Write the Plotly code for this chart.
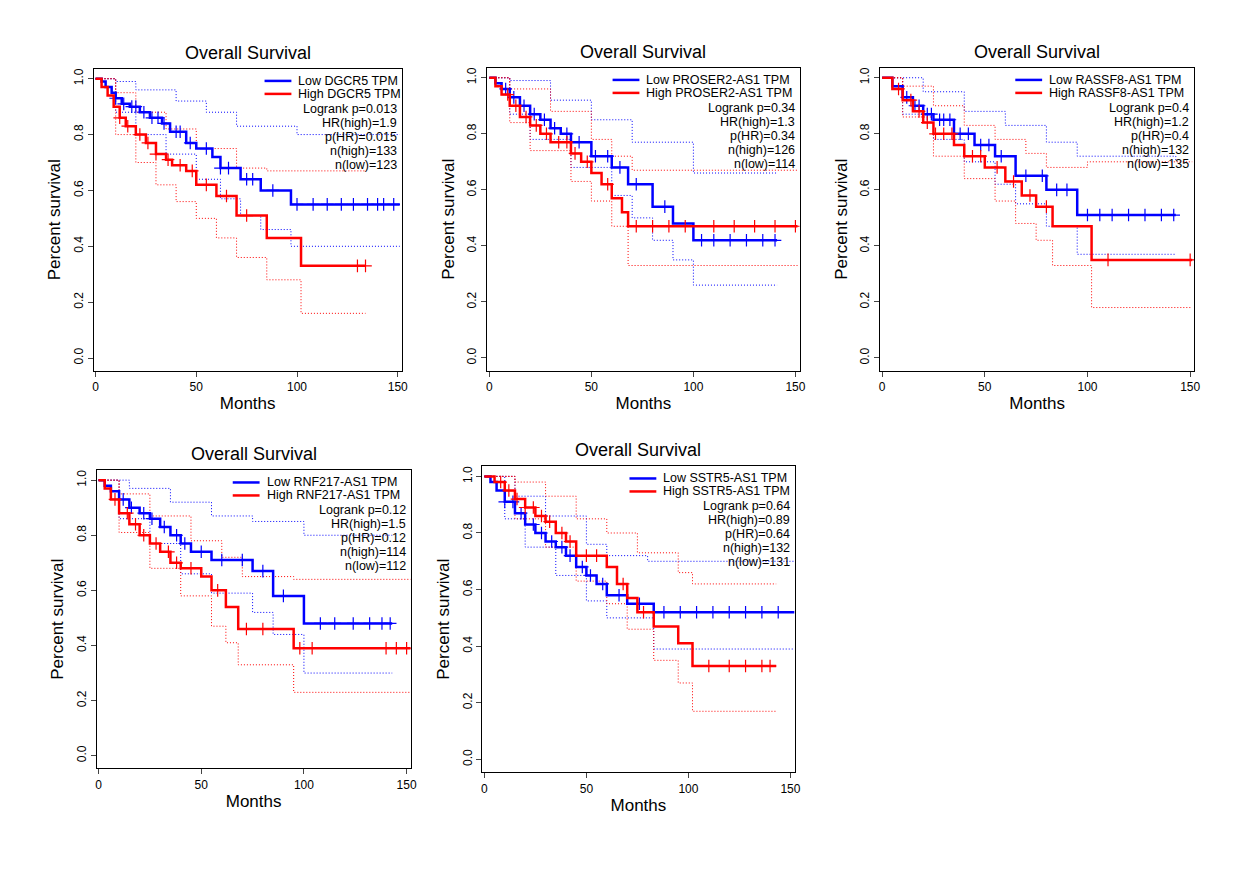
import numpy as np
import plotly.graph_objects as go

W, H = 1240, 881

# ---- data (knots: time, survival) ----
genes = ["DGCR5", "PROSER2-AS1", "RASSF8-AS1", "RNF217-AS1", "SSTR5-AS1"]
stats = [
    ["Logrank p=0.013", "HR(high)=1.9", "p(HR)=0.015", "n(high)=133", "n(low)=123"],
    ["Logrank p=0.34", "HR(high)=1.3", "p(HR)=0.34", "n(high)=126", "n(low)=114"],
    ["Logrank p=0.4", "HR(high)=1.2", "p(HR)=0.4", "n(high)=132", "n(low)=135"],
    ["Logrank p=0.12", "HR(high)=1.5", "p(HR)=0.12", "n(high)=114", "n(low)=112"],
    ["Logrank p=0.64", "HR(high)=0.89", "p(HR)=0.64", "n(high)=132", "n(low)=131"],
]

low_curves = [
    [(0,1),(3,.99),(5,.97),(8,.95),(10,.93),(13,.91),(17,.9),(22,.88),(27,.86),(33,.84),(37,.81),(45,.77),(50,.75),(58,.72),(62,.68),(72,.64),(82,.6),(97,.55),(151,.55)],
    [(0,1),(3,.98),(6,.96),(10,.93),(15,.9),(20,.87),(25,.85),(30,.82),(35,.8),(40,.77),(50,.72),(60,.68),(68,.62),(80,.54),(90,.48),(100,.42),(141,.42)],
    [(0,1),(5,.97),(10,.93),(15,.9),(20,.87),(25,.85),(35,.8),(45,.76),(55,.72),(65,.65),(80,.6),(95,.51),(143,.51)],
    [(0,1),(3,.98),(6,.96),(10,.93),(15,.9),(20,.88),(25,.86),(30,.83),(35,.8),(40,.77),(45,.74),(55,.71),(75,.67),(85,.58),(100,.48),(143,.48)],
    [(0,1),(3,.98),(6,.95),(10,.91),(15,.87),(20,.83),(25,.8),(30,.77),(35,.75),(40,.72),(45,.68),(50,.65),(55,.62),(60,.58),(70,.55),(83,.52),(152,.52)],
]
high_curves = [
    [(0,1),(3,.97),(6,.94),(9,.9),(12,.86),(15,.83),(20,.8),(25,.77),(30,.73),(35,.71),(38,.69),(45,.67),(50,.62),(60,.58),(70,.51),(85,.43),(102,.33),(134,.33)],
    [(0,1),(3,.97),(6,.94),(10,.9),(15,.86),(20,.83),(25,.8),(30,.77),(40,.73),(45,.7),(50,.66),(55,.62),(60,.57),(65,.52),(68,.47),(151,.47)],
    [(0,1),(5,.96),(10,.92),(15,.88),(20,.84),(25,.8),(35,.76),(40,.72),(50,.68),(60,.63),(68,.58),(75,.54),(83,.47),(102,.35),(151,.35)],
    [(0,1),(3,.97),(6,.93),(10,.88),(15,.84),(20,.8),(25,.77),(30,.74),(35,.7),(40,.68),(50,.65),(55,.6),(62,.54),(68,.46),(95,.39),(152,.39)],
    [(0,1),(5,.98),(10,.95),(15,.92),(20,.89),(25,.86),(30,.84),(35,.8),(40,.77),(45,.72),(60,.68),(65,.62),(70,.57),(75,.52),(83,.47),(95,.41),(102,.33),(143,.33)],
]
low_upper = [
    [(0,1),(10,.99),(20,.96),(40,.92),(55,.88),(70,.83),(100,.8),(151,.8)],
    [(0,1),(10,.99),(30,.92),(50,.85),(70,.77),(100,.66),(141,.66)],
    [(0,1),(20,.95),(40,.88),(60,.83),(80,.77),(95,.72),(143,.7)],
    [(0,1),(15,.97),(35,.92),(55,.87),(75,.85),(100,.8),(143,.8)],
    [(0,1),(15,.93),(30,.86),(50,.76),(60,.72),(80,.7),(152,.7)],
]
low_lower = [
    [(0,1),(10,.88),(20,.8),(35,.73),(50,.64),(62,.57),(72,.51),(82,.46),(97,.4),(151,.4)],
    [(0,1),(10,.87),(20,.78),(40,.68),(60,.58),(70,.5),(80,.42),(90,.35),(100,.26),(141,.26)],
    [(0,1),(10,.87),(25,.78),(40,.7),(55,.62),(65,.55),(80,.47),(95,.37),(143,.37)],
    [(0,1),(10,.86),(25,.77),(40,.66),(55,.59),(75,.52),(85,.44),(100,.3),(143,.3)],
    [(0,1),(10,.85),(20,.75),(35,.65),(50,.56),(60,.5),(83,.39),(152,.39)],
]
high_upper = [
    [(0,1),(10,.95),(20,.88),(35,.82),(50,.75),(70,.68),(85,.67),(134,.67)],
    [(0,1),(10,.96),(30,.88),(50,.78),(60,.72),(70,.67),(151,.67)],
    [(0,1),(10,.97),(25,.9),(40,.83),(55,.78),(70,.73),(80,.68),(100,.7),(151,.7)],
    [(0,1),(10,.95),(25,.87),(45,.78),(60,.72),(70,.65),(95,.64),(152,.64)],
    [(0,1),(15,.98),(30,.93),(45,.85),(60,.8),(75,.73),(95,.66),(102,.62),(143,.62)],
]
high_lower = [
    [(0,1),(10,.8),(20,.7),(30,.62),(40,.56),(50,.5),(60,.43),(70,.36),(85,.28),(102,.16),(134,.16)],
    [(0,1),(10,.84),(20,.74),(40,.63),(50,.56),(60,.47),(68,.33),(151,.33)],
    [(0,1),(10,.86),(25,.72),(40,.64),(55,.56),(65,.48),(75,.42),(83,.33),(102,.18),(151,.18)],
    [(0,1),(10,.81),(25,.68),(40,.58),(55,.47),(62,.41),(68,.33),(95,.23),(152,.23)],
    [(0,1),(15,.85),(30,.75),(45,.63),(60,.55),(70,.46),(83,.35),(95,.27),(102,.17),(143,.17)],
]
low_cens = [
    [10,14,18,20,24,28,31,34,40,42,47,55,62,66,75,78,88,100,108,115,122,128,135,140,143,148],
    [8,12,17,22,27,32,38,44,52,58,64,72,86,104,110,118,126,134,140],
    [12,16,18,22,24,28,30,33,38,42,48,52,58,70,78,85,90,100,106,112,120,128,136,142],
    [12,16,22,26,32,38,42,50,60,70,80,90,108,115,124,132,138,142],
    [10,14,18,24,28,33,38,42,48,52,58,66,76,88,96,104,112,120,128,136,144],
]
high_cens = [
    [12,16,22,26,30,36,42,48,55,65,75,130,134],
    [9,13,18,23,28,34,38,42,48,58,72,80,88,96,110,120,130,140,150],
    [8,14,18,22,26,30,34,44,48,56,64,72,80,110,150],
    [8,14,18,22,28,34,38,45,58,72,80,98,104,140,145,150],
    [8,12,16,20,24,28,32,38,42,50,55,68,78,110,120,128,136,140],
]

# pixel boxes (left, right, top, bottom)
boxes = [(93, 403, 68, 370), (489, 803, 67, 370), (884, 1200, 67, 370),
         (96, 412, 470, 768), (484, 798, 466, 772)]
leg_x = [265, 615, 1020, 233, 632]

BLUE, RED = "#0000ff", "#ff0000"
FONT = "Liberation Sans, Arial"
OFF = 8  # page body margin


def step_y(knots, t):
    ts = [k[0] for k in knots]
    i = np.searchsorted(ts, t, side="right") - 1
    return knots[max(i, 0)][1]


def px(x):
    return (x - OFF) / W


def py(y):
    return 1 - (y - OFF) / H


fig = go.Figure()
layout = dict(width=W, height=H, margin=dict(l=0, r=0, t=0, b=0),
              plot_bgcolor="white", paper_bgcolor="white", showlegend=False,
              font=dict(family=FONT, color="black"))
annotations, shapes = [], []

for i in range(5):
    n = "" if i == 0 else str(i + 1)
    xa, ya = "x" + n, "y" + n
    l, r, t, b = boxes[i]
    axstyle = dict(showline=True, linecolor="black", linewidth=1, mirror=True,
                   ticks="outside", ticklen=5, showgrid=False, zeroline=False,
                   tickfont=dict(size=12, family=FONT))
    layout["xaxis" + n] = dict(axstyle, domain=[px(l), px(r)], range=[-1, 152],
                               tickvals=[0, 50, 100, 150], anchor=ya,
                               title=dict(text="Months", font=dict(size=17), standoff=4))
    layout["yaxis" + n] = dict(axstyle, domain=[py(b), py(t)], range=[-0.045, 1.035],
                               tickvals=[0, .2, .4, .6, .8, 1], tickformat=".1f",
                               tickangle=-90, anchor=xa,
                               title=dict(text="Percent survival", font=dict(size=17), standoff=6))
    for knots, col in [(low_upper[i], BLUE), (low_lower[i], BLUE),
                       (high_upper[i], RED), (high_lower[i], RED)]:
        fig.add_trace(go.Scatter(x=[k[0] for k in knots], y=[k[1] for k in knots],
                                 mode="lines", line=dict(color=col, width=1, dash="1px,2px", shape="hv"),
                                 xaxis=xa, yaxis=ya))
    for knots, cens, col in [(low_curves[i], low_cens[i], BLUE), (high_curves[i], high_cens[i], RED)]:
        fig.add_trace(go.Scatter(x=[k[0] for k in knots], y=[k[1] for k in knots],
                                 mode="lines", line=dict(color=col, width=2.5, shape="hv"),
                                 xaxis=xa, yaxis=ya))
        fig.add_trace(go.Scatter(x=cens, y=[step_y(knots, c) for c in cens], mode="markers",
                                 marker=dict(symbol="cross-thin", size=9,
                                             line=dict(color=col, width=1.2)),
                                 xaxis=xa, yaxis=ya))
    # title
    annotations.append(dict(x=px((l + r) / 2), y=py(t - 4), xref="paper", yref="paper",
                            text="Overall Survival", showarrow=False, yanchor="bottom",
                            xanchor="center", font=dict(size=18)))
    # legend
    lx = leg_x[i]
    for j, (lab, col) in enumerate([("Low %s TPM" % genes[i], BLUE), ("High %s TPM" % genes[i], RED)]):
        yy = t + 12 + 13 * j
        shapes.append(dict(type="line", xref="paper", yref="paper", x0=px(lx), x1=px(lx + 27),
                           y0=py(yy), y1=py(yy), line=dict(color=col, width=2.5)))
        annotations.append(dict(x=px(lx + 32), y=py(yy), xref="paper", yref="paper", text=lab,
                                showarrow=False, xanchor="left", yanchor="middle",
                                font=dict(size=12.5)))
    for j, s in enumerate(stats[i]):
        annotations.append(dict(x=px(r - 3), y=py(t + 40 + 14 * j), xref="paper", yref="paper",
                                text=s, showarrow=False, xanchor="right", yanchor="middle",
                                font=dict(size=12.5)))

layout["annotations"] = annotations
layout["shapes"] = shapes
fig.update_layout(**layout)
fig.write_html("out.html")
